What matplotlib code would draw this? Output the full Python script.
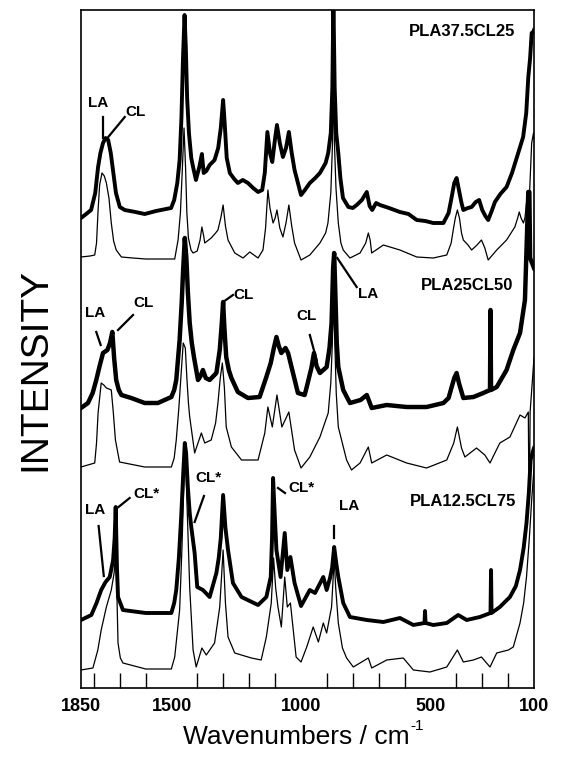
import matplotlib
matplotlib.use("Agg")
import matplotlib.pyplot as plt

plt.rcParams['font.family'] = ['Liberation Sans', 'DejaVu Sans']

# ---- PLA37.5CL25 (thick / thin) ----
wn_a1 = [1850,1830,1811,1795,1784,1775,1765,1755,1745,1735,1725,1715,1700,1681,1640,1604,1560,1502,1490,1478,1469,1462,1456,1450,1445,1440,1433,1424,1417,1406,1392,1383,1376,1366,1353,1334,1320,1310,1301,1295,1287,1275,1258,1244,1225,1205,1185,1166,1150,1140,1130,1120,1111,1101,1093,1082,1070,1058,1047,1036,1025,1012,1000,985,966,945,927,905,895,885,879,875,870,864,856,848,838,817,800,785,765,746,735,725,710,695,660,618,585,553,520,489,470,450,430,418,408,399,390,380,373,355,341,325,312,300,288,277,262,251,230,206,185,161,142,130,122,115,109,103,100]
in_a1 = [470,474,478,495,521,535,545,550,548,535,515,495,481,478,476,474,477,480,488,505,528,570,630,673,640,590,555,530,521,508,522,534,515,517,523,528,540,560,588,565,530,515,509,505,508,505,500,496,498,515,556,535,526,548,563,545,531,540,556,535,518,505,493,498,505,510,515,525,535,555,600,690,600,555,535,510,490,481,480,483,488,496,482,478,485,483,480,476,474,468,467,465,465,465,475,491,505,510,498,485,478,480,481,486,488,478,472,468,478,486,494,501,515,535,551,575,611,630,655,656,658]

wn_a2 = [1850,1815,1797,1790,1784,1778,1769,1760,1752,1742,1733,1724,1714,1694,1650,1600,1540,1488,1475,1466,1460,1452,1446,1441,1435,1425,1417,1401,1390,1383,1376,1372,1347,1330,1321,1310,1301,1292,1282,1256,1224,1198,1166,1147,1137,1128,1120,1108,1100,1093,1082,1070,1058,1047,1036,1025,1000,966,927,905,896,885,879,875,871,865,856,846,837,811,772,750,740,733,727,682,618,553,489,437,420,412,404,396,388,380,373,355,341,320,303,290,277,244,206,174,163,157,150,141,135,129,118,109,102,100]
in_a2 = [431,432,433,445,478,503,515,512,505,490,465,447,438,431,430,429,429,429,448,475,510,560,520,475,450,438,435,437,448,461,452,445,450,455,458,470,483,462,448,435,430,436,430,438,460,498,480,465,470,478,460,451,465,483,462,445,428,433,445,455,465,495,540,600,545,500,465,445,438,430,435,445,455,448,435,443,438,431,430,433,445,458,470,478,470,455,448,443,438,443,448,440,428,438,448,461,470,476,470,465,470,485,490,545,555,550]

# ---- PLA25CL50 (thick / thin) ----
wn_b1 = [1850,1823,1805,1791,1778,1765,1748,1738,1729,1722,1714,1704,1694,1656,1604,1553,1501,1490,1482,1469,1461,1456,1449,1443,1437,1430,1422,1413,1398,1388,1379,1368,1353,1327,1314,1306,1301,1296,1289,1279,1269,1244,1205,1160,1134,1117,1105,1095,1086,1076,1060,1050,1031,1012,986,978,960,950,940,927,901,890,882,876,872,868,862,856,837,811,770,746,727,669,592,515,450,430,418,408,399,390,373,334,296,270,268,266,244,206,180,154,135,122,118,115,100]
in_b1 = [280,285,295,308,322,335,338,345,356,330,308,298,293,290,285,285,291,298,308,348,385,415,450,430,395,365,345,330,308,312,318,310,308,315,338,365,386,360,331,318,310,296,290,291,311,325,340,351,342,335,340,335,315,295,293,301,320,335,322,315,321,340,365,420,435,400,345,321,298,285,288,293,280,283,281,281,285,290,301,310,315,305,290,291,295,298,378,298,301,318,338,355,388,496,496,430,420]

wn_b2 = [1850,1797,1790,1784,1772,1762,1752,1742,1733,1725,1717,1701,1604,1501,1490,1482,1472,1463,1455,1447,1441,1435,1430,1411,1398,1385,1372,1347,1330,1321,1312,1304,1296,1289,1269,1230,1166,1140,1128,1111,1093,1074,1047,1025,1000,966,927,895,885,879,875,870,864,856,824,805,772,740,727,669,592,515,437,410,396,380,367,322,290,270,232,193,154,135,122,120,117,115,100]
in_b2 = [221,225,245,275,305,303,300,299,298,275,248,226,221,221,230,248,280,315,345,340,310,285,271,235,245,255,245,248,265,285,310,325,300,261,241,228,228,255,281,261,293,261,276,238,220,231,251,275,305,345,395,350,295,261,228,218,225,241,225,233,225,220,228,245,261,240,231,240,233,225,245,251,273,270,276,208,208,276,330]

# ---- PLA12.5CL75 (thick / thin) ----
wn_c1 = [1850,1810,1790,1772,1755,1739,1726,1720,1716,1711,1707,1688,1600,1501,1490,1482,1472,1463,1455,1449,1444,1437,1430,1424,1411,1401,1379,1353,1327,1318,1310,1301,1292,1282,1263,1230,1166,1134,1117,1112,1108,1101,1095,1079,1063,1053,1041,1025,1000,966,946,914,901,888,880,872,864,856,837,811,746,682,618,566,523,521,519,489,437,393,360,309,268,266,264,232,193,170,154,140,129,120,113,105,100]
in_c1 = [68,73,85,98,106,111,128,150,181,120,91,78,75,75,85,98,130,171,215,245,235,200,175,161,135,101,98,91,115,130,150,193,160,138,105,91,83,91,111,150,210,170,138,111,155,118,131,105,82,98,95,111,98,110,120,141,125,111,85,71,68,66,70,63,65,77,65,63,65,73,68,71,75,118,75,81,91,102,118,140,165,195,228,236,240]

wn_c2 = [1850,1804,1785,1772,1752,1733,1722,1716,1711,1707,1698,1688,1600,1501,1488,1469,1460,1452,1447,1440,1430,1417,1405,1383,1366,1334,1314,1301,1292,1282,1256,1192,1154,1134,1115,1106,1098,1089,1076,1063,1053,1041,1019,1000,978,953,933,914,901,882,877,872,866,856,840,824,798,740,727,669,605,566,502,437,396,373,334,303,270,244,199,180,154,140,129,118,109,100]
in_c2 = [18,20,38,58,81,98,115,140,90,45,30,25,19,19,31,78,140,210,235,180,100,38,21,40,33,45,81,138,85,51,35,30,28,51,85,130,100,81,61,111,81,85,31,26,41,61,46,65,55,81,105,130,100,65,40,30,21,30,20,28,30,18,16,21,38,26,28,31,21,35,38,41,65,85,111,150,188,220]

tick_values = [1850, 1500, 1000, 500, 100]
minor_values = [1800,1700,1600,1500,1400,1300,1200,1100,1000,900,800,700,600,500,400,300,200]

fig = plt.figure(figsize=(5.62, 7.57), dpi=100)
ax = fig.add_axes([81/562, 1-688/757, 453/562, 678/757])

thick = dict(color='black', lw=2.8)
thin = dict(color='black', lw=0.9)
ax.plot(wn_a1, in_a1, **thick)
ax.plot(wn_a2, in_a2, **thin)
ax.plot(wn_b1, in_b1, color='black', lw=3.2)
ax.plot(wn_b2, in_b2, **thin)
ax.plot(wn_c1, in_c1, **thick)
ax.plot(wn_c2, in_c2, **thin)

ax.set_xlim(1850, 100)
ax.set_ylim(0, 678)
ax.set_yticks([])
ax.set_xticks(tick_values)
ax.set_xticklabels([str(v) for v in tick_values], fontsize=13, fontweight='bold')
ax.set_xticks(minor_values, minor=True)
ax.tick_params(axis='x', which='both', direction='in', length=11, width=1, pad=7)
ax.tick_params(axis='x', which='major', length=0)
for s in ax.spines.values():
    s.set_linewidth(1.2)

lab = dict(fontsize=11, fontweight='bold', color='black')
name = dict(fontsize=12, fontweight='bold', color='black')
ln = dict(color='black', lw=1.6)

# top
ax.text(1784, 585, 'LA', ha='center', va='center', **lab)
ax.plot([1765, 1765], [571, 550], **ln)
ax.text(1638, 576, 'CL', ha='center', va='center', **lab)
ax.plot([1681, 1748], [571, 550], **ln)
ax.text(174, 657, 'PLA37.5CL25', ha='right', va='center', **name)
# middle
ax.text(1796, 375, 'LA', ha='center', va='center', **lab)
ax.plot([1791, 1774], [356, 343], **ln)
ax.text(1607, 385, 'CL', ha='center', va='center', **lab)
ax.plot([1649, 1707], [373, 358], **ln)
ax.text(1263, 393, 'CL', ha='left', va='center', **lab)
ax.plot([1301, 1263], [386, 393], **ln)
ax.text(977, 372, 'CL', ha='center', va='center', **lab)
ax.plot([966, 940], [353, 328], **ln)
ax.text(741, 394, 'LA', ha='center', va='center', **lab)
ax.plot([860, 785], [430, 401], **ln)
ax.text(181, 402, 'PLA25CL50', ha='right', va='center', **name)
# bottom
ax.text(1796, 178, 'LA', ha='center', va='center', **lab)
ax.plot([1782, 1762], [162, 112], **ln)
ax.text(1649, 194, 'CL*', ha='left', va='center', **lab)
ax.plot([1662, 1710], [190, 180], **ln)
ax.text(1410, 210, 'CL*', ha='left', va='center', **lab)
ax.plot([1375, 1411], [192, 166], **ln)
ax.text(1050, 200, 'CL*', ha='left', va='center', **lab)
ax.plot([1089, 1062], [200, 195], **ln)
ax.text(815, 182, 'LA', ha='center', va='center', **lab)
ax.plot([872, 872], [162, 150], **ln)
ax.text(170, 187, 'PLA12.5CL75', ha='right', va='center', **name)

fig.text(35/562, 1-369/757, 'INTENSITY', rotation=90, ha='center', va='center', fontsize=28)
xl = fig.text(296/562, 1-737/757, 'Wavenumbers / cm', ha='center', va='center', fontsize=19)
fig.canvas.draw()
bb = xl.get_window_extent(renderer=fig.canvas.get_renderer())
fig.text((bb.x1 + 1) / fig.bbox.width, (bb.y0 + 16) / fig.bbox.height, '-1',
         ha='left', va='bottom', fontsize=11)

fig.savefig('out.png', dpi=100)
